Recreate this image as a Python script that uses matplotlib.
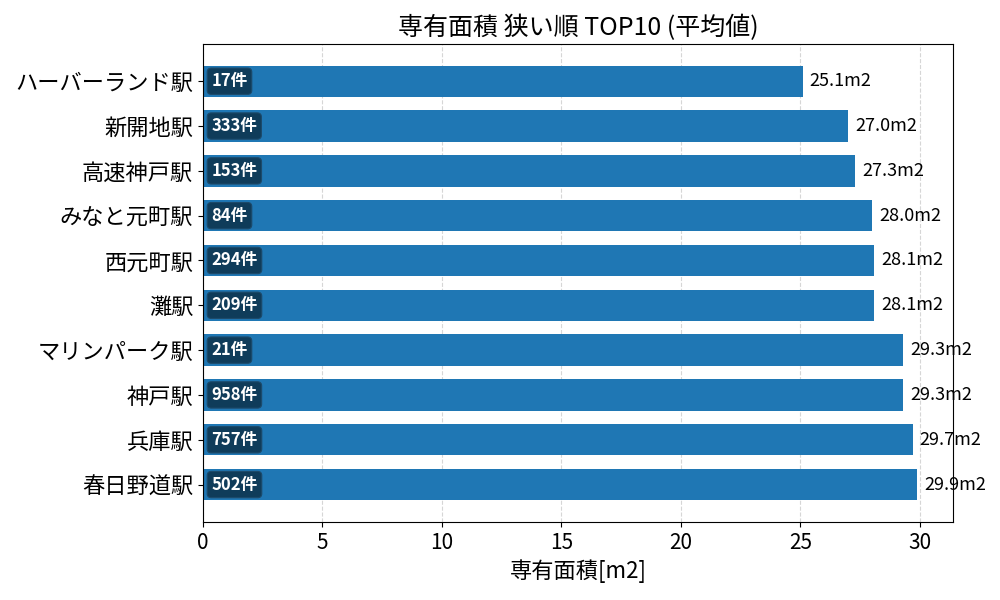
import matplotlib
matplotlib.use("Agg")
import matplotlib.pyplot as plt
import numpy as np

plt.rcParams["font.family"] = ["Noto Sans CJK JP", "DejaVu Sans"]

# data (narrowest first)
stations = ["ハーバーランド駅", "新開地駅", "高速神戸駅", "みなと元町駅", "西元町駅",
            "灘駅", "マリンパーク駅", "神戸駅", "兵庫駅", "春日野道駅"]
areas = [25.1, 27.0, 27.3, 28.0, 28.1, 28.1, 29.3, 29.3, 29.7, 29.9]
counts = [17, 333, 153, 84, 294, 209, 21, 958, 757, 502]

fig, ax = plt.subplots(figsize=(10, 6), dpi=100)

y = np.arange(len(stations))
ax.barh(y, areas, height=0.7, color="#1f77b4")
ax.set_yticks(y)
ax.set_yticklabels(stations, fontsize=16)
ax.invert_yaxis()

for yi, a, c in zip(y, areas, counts):
    ax.text(a + 0.3, yi, f"{a:.1f}m2", va="center", ha="left", fontsize=13)
    ax.text(0.35, yi, f"{c}件", va="center", ha="left", fontsize=12,
            fontweight="bold", color="white",
            bbox=dict(boxstyle="round,pad=0.25", fc="#0f3c5a", ec="#1d4a6a", lw=0.8))

ax.set_xlim(0, max(areas) * 1.05)
ax.tick_params(axis="x", labelsize=15)
ax.set_xlabel("専有面積[m2]", fontsize=16)
ax.set_title("専有面積 狭い順 TOP10 (平均値)", fontsize=18)
ax.grid(axis="x", linestyle="--", color="#cccccc", alpha=0.8)
ax.set_axisbelow(True)

fig.subplots_adjust(left=0.203, right=0.953, top=0.927, bottom=0.13)
fig.savefig("out.png", dpi=100)
